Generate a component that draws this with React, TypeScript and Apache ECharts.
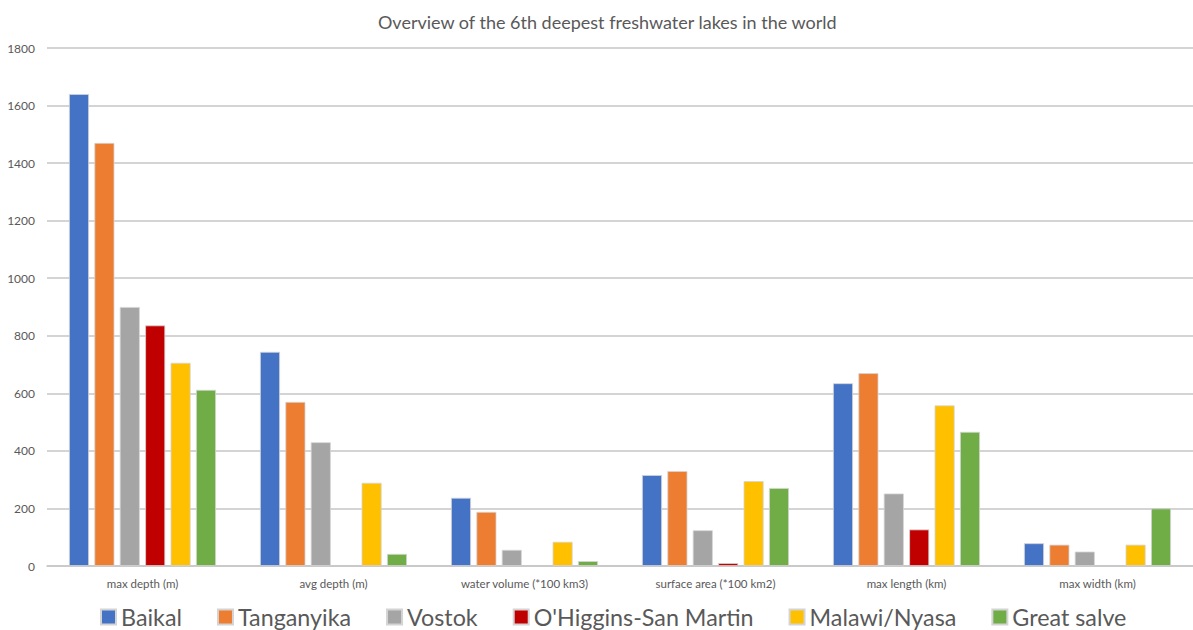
import React, { useEffect, useRef } from "react";
import * as echarts from "echarts";

const categories = [
  "max depth (m)",
  "avg depth (m)",
  "water volume (*100 km3)",
  "surface area (*100 km2)",
  "max length (km)",
  "max width (km)",
];

const lakeNames = ["Baikal", "Tanganyika", "Vostok", "O'Higgins-San Martin", "Malawi/Nyasa", "Great salve"];

const baikal = [1640, 744, 237, 316, 635, 79];
const tanganyika = [1470, 570, 188, 330, 670, 74];
const vostok = [900, 430, 56, 124, 252, 50];
const ohiggins = [836, null, null, 10, 127, null];
const malawi = [706, 289, 84, 295, 558, 74];
const greatSalve = [612, 42, 17, 271, 466, 200];

const seriesValues = [baikal, tanganyika, vostok, ohiggins, malawi, greatSalve];
const colors = ["#4472C4", "#ED7D31", "#A5A5A5", "#C00000", "#FFC000", "#70AD47"];

const FONT = "Lato, 'Open Sans', sans-serif";

export default function App() {
  const ref = useRef<HTMLDivElement>(null);
  useEffect(() => {
    if (!ref.current) return;
    const chart = echarts.init(ref.current, null, { renderer: "svg" });
    chart.setOption({
      animation: false,
      backgroundColor: "#ffffff",
      textStyle: { fontFamily: FONT },
      title: {
        text: "Overview of the 6th deepest freshwater lakes in the world",
        left: 373,
        top: 8,
        textStyle: { fontFamily: FONT, fontSize: 18, fontWeight: "normal", color: "#595959" },
      },
      legend: {
        left: 100,
        top: 604,
        padding: 0,
        itemWidth: 15,
        itemHeight: 15,
        itemGap: 35,
        icon: "rect",
        textStyle: { fontFamily: FONT, fontSize: 23.3, lineHeight: 26, color: "#595959" },
        data: lakeNames,
      },
      grid: { left: 47, top: 48, width: 1151, height: 518, containLabel: false },
      xAxis: {
        type: "category",
        data: categories,
        axisLine: { lineStyle: { color: "#c6c6c6", width: 1.5 } },
        axisTick: { show: false },
        axisLabel: { color: "#595959", fontSize: 11.5, fontFamily: FONT, margin: 11 },
      },
      yAxis: {
        type: "value",
        min: 0,
        max: 1800,
        interval: 200,
        axisLine: { show: false },
        axisTick: { show: false },
        axisLabel: {
          color: "#595959",
          fontSize: 12,
          fontFamily: FONT,
          margin: 12,
          formatter: (v: number) => String(v),
        },
        splitLine: { lineStyle: { color: "#c6c6c6", width: 1.5 } },
      },
      series: lakeNames.map((name, i) => ({
        name,
        type: "bar",
        data: seriesValues[i],
        barWidth: 20,
        barGap: "27%",
        itemStyle: { color: colors[i], borderColor: "#d4d4d4", borderWidth: 0.8 },
      })),
    });
    return () => chart.dispose();
  }, []);
  return (
    <div
      ref={ref}
      style={{ position: "fixed", left: 0, top: 0, width: 1193, height: 630, background: "#fff" }}
    />
  );
}
